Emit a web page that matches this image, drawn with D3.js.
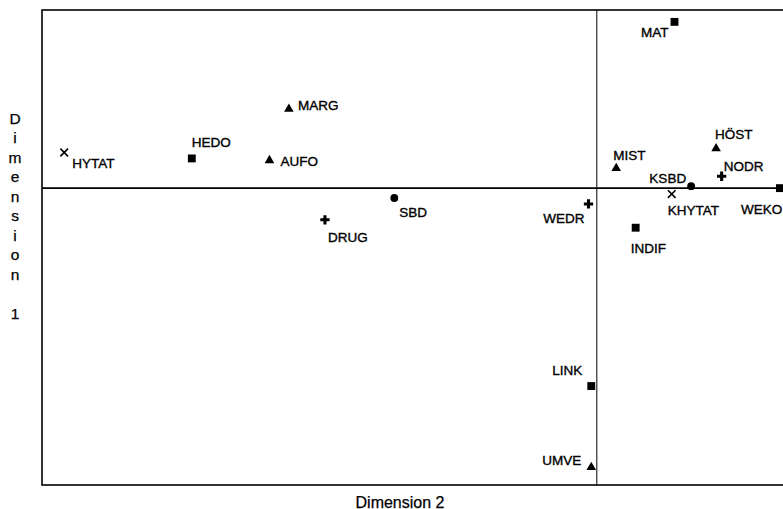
<!DOCTYPE html>
<html>
<head>
<meta charset="utf-8">
<script src="https://cdn.jsdelivr.net/npm/d3@7"></script>
<style>
  body { margin: 0; background: #fff; }
  svg { display: block; font-family: 'Liberation Sans', Arial, sans-serif; }
</style>
</head>
<body>
<div id="chart"></div>
<script>
// MDS configuration
const names  = ['HYTAT', 'HEDO', 'MARG', 'AUFO', 'DRUG', 'SBD', 'WEDR', 'MAT', 'MIST',
                'HÖST', 'NODR', 'KSBD', 'KHYTAT', 'WEKO', 'INDIF', 'LINK', 'UMVE'];
const dim2   = [-1.92, -1.46, -1.11, -1.18, -0.98, -0.73, -0.03, 0.28, 0.07,
                 0.43, 0.45, 0.34, 0.27, 0.66, 0.14, -0.02, -0.02];
const dim1   = [0.18, 0.15, 0.40, 0.14, -0.16, -0.05, -0.08, 0.84, 0.10,
                0.20, 0.06, 0.01, -0.03, 0.00, -0.20, -1.00, -1.41];
const groups = ['x', 'square', 'triangle', 'triangle', 'plus', 'circle', 'plus', 'square', 'triangle',
                'triangle', 'plus', 'circle', 'x', 'square', 'square', 'square', 'triangle'];

// label placement relative to the marker (dx, dy, anchor)
const labelPos = {
  HYTAT: [8, 11, 'start'], HEDO: [0, -16, 'start'], MARG: [9, -3, 'start'],
  AUFO: [11, 1, 'start'], DRUG: [3, 18, 'start'], SBD: [5, 14, 'start'],
  WEDR: [-4, 15, 'end'], MAT: [-6, 11, 'end'], MIST: [-3, -13, 'start'],
  'HÖST': [-1, -14, 'start'], NODR: [2, -10, 'start'], KSBD: [-5, -8, 'end'],
  KHYTAT: [-4, 16, 'start'], WEKO: [-39, 21, 'start'], INDIF: [-5, 21, 'start'],
  LINK: [-9, -16, 'end'], UMVE: [-10, -7, 'end']
};

const width = 783, height = 509;
const margin = { top: 10, right: -8, bottom: 24, left: 42 };

const svg = d3.select('#chart')
  .append('svg')
  .attr('width', width)
  .attr('height', height);

const x = d3.scaleLinear().domain([-2.0, 0.7]).range([margin.left, width - margin.right]);
const y = d3.scaleLinear().domain([-1.5, 0.9]).range([height - margin.bottom, margin.top]);

// frame
svg.append('rect')
  .attr('x', x(-2.0))
  .attr('y', y(0.9))
  .attr('width', x(0.7) - x(-2.0))
  .attr('height', y(-1.5) - y(0.9))
  .attr('fill', 'none')
  .attr('stroke', '#000')
  .attr('stroke-width', 1.6);

// zero reference lines
svg.append('line')
  .attr('x1', x(-2.0)).attr('x2', x(0.7))
  .attr('y1', y(0)).attr('y2', y(0))
  .attr('stroke', '#000').attr('stroke-width', 1.6);
svg.append('line')
  .attr('x1', x(0)).attr('x2', x(0))
  .attr('y1', y(0.9)).attr('y2', y(-1.5))
  .attr('stroke', '#000').attr('stroke-width', 1);

const symbols = {
  square: d3.symbol().type(d3.symbolSquare).size(62),
  triangle: d3.symbol().type(d3.symbolTriangle).size(40),
  circle: d3.symbol().type(d3.symbolCircle).size(48),
  plus: d3.symbol().type(d3.symbolCross).size(48),
  x: d3.symbol().type(d3.symbolX).size(40)
};

const pts = names.map((n, i) => ({ name: n, d2: dim2[i], d1: dim1[i], g: groups[i] }));

const pt = svg.append('g').selectAll('g')
  .data(pts)
  .enter()
  .append('g')
  .attr('transform', d => `translate(${x(d.d2)},${y(d.d1)})`);

pt.append('path')
  .attr('d', d => symbols[d.g]())
  .attr('fill', d => d.g === 'x' ? 'none' : '#000')
  .attr('stroke', d => d.g === 'x' ? '#000' : 'none')
  .attr('stroke-width', 1.6);

pt.append('text')
  .attr('x', d => labelPos[d.name][0])
  .attr('y', d => labelPos[d.name][1])
  .attr('text-anchor', d => labelPos[d.name][2])
  .attr('dominant-baseline', 'central')
  .attr('font-size', 13.5)
  .attr('fill', '#000')
  .attr('stroke', '#000')
  .attr('stroke-width', 0.35)
  .text(d => d.name);

// axis titles
svg.append('text')
  .attr('x', 400)
  .attr('y', 502)
  .attr('text-anchor', 'middle')
  .attr('dominant-baseline', 'central')
  .attr('font-size', 16)
  .attr('stroke', '#000')
  .attr('stroke-width', 0.25)
  .text('Dimension 2');

const vtitle = 'Dimension 1'.split('');
svg.append('g')
  .selectAll('text')
  .data(vtitle)
  .enter()
  .append('text')
  .attr('x', 15)
  .attr('y', (d, i) => 118 + i * 19.5)
  .attr('text-anchor', 'middle')
  .attr('dominant-baseline', 'central')
  .attr('font-size', 15.5)
  .attr('stroke', '#000')
  .attr('stroke-width', 0.25)
  .text(d => d);
</script>
</body>
</html>
